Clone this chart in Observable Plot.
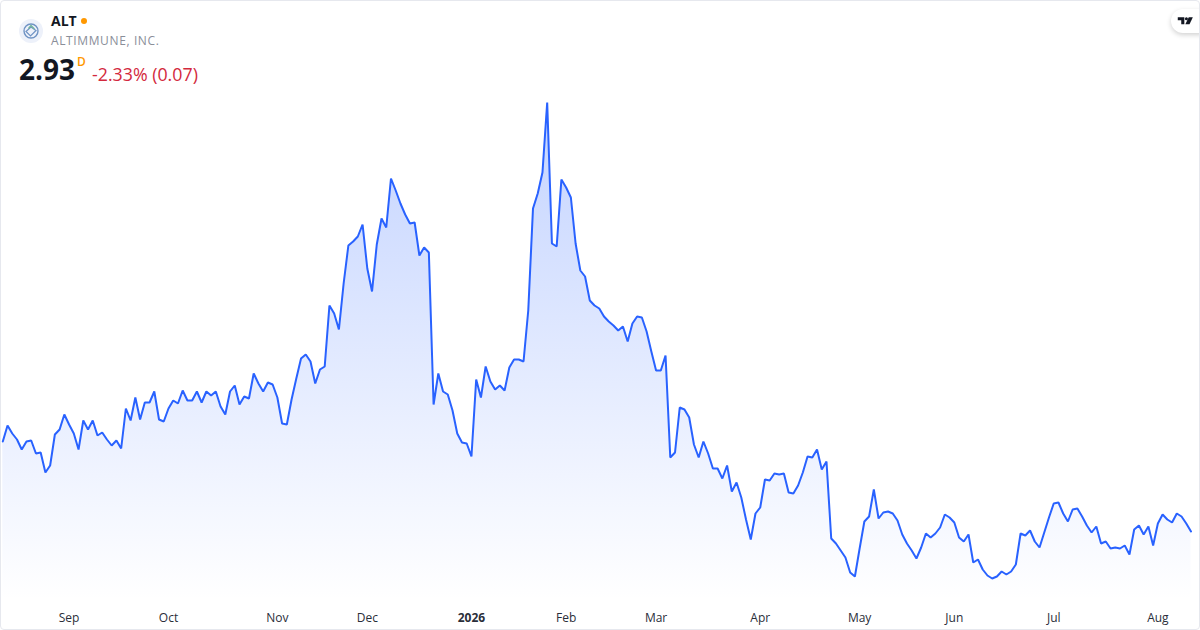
<!DOCTYPE html>
<html>
<head>
<meta charset="utf-8">
<script src="https://cdn.jsdelivr.net/npm/d3@7"></script>
<script src="https://cdn.jsdelivr.net/npm/@observablehq/plot@0.6"></script>
<style>
html,body{margin:0;padding:0;background:#fff}
#card{position:relative;width:1200px;height:630px;box-sizing:border-box;overflow:hidden;font-family:"Open Sans",sans-serif;background:#fff}
#frame{position:absolute;left:0;top:0;width:1200px;height:630px;box-sizing:border-box;border:1px solid #e6e8ee;border-radius:4px;pointer-events:none}
#chart{position:absolute;left:0;top:0}
#chart svg{display:block;background:transparent}
.t{position:absolute;white-space:nowrap;line-height:1}
#logo{position:absolute;left:19px;top:19px}
#tv{position:absolute;left:1171px;top:9px;width:40px;height:24px;border-radius:12px;background:#fff;box-shadow:0 2px 5px rgba(0,0,0,.18)}
#tv svg{position:absolute;left:5.5px;top:6.5px}
</style>
</head>
<body>
<div id="card">
  <div id="chart"></div>
  <svg id="logo" width="24" height="24" viewBox="0 0 24 24">
    <circle cx="12" cy="12" r="12" fill="#edf1fa"/>
    <circle cx="12" cy="12" r="7" fill="none" stroke="#6f93c4" stroke-width="1.4"/>
    <path d="M7 12.5 L12 8 L17 11.5 L11.5 17 Z" fill="none" stroke="#6f93c4" stroke-width="1.2"/>
    <path d="M9.5 9.5 L12 6.5 L15.5 10" fill="none" stroke="#6fb39a" stroke-width="1.3"/>
  </svg>
  <div class="t" style="left:51px;top:13.5px;font-size:14px;font-weight:700;color:#131722">ALT</div>
  <svg style="position:absolute;left:80px;top:17px" width="8" height="8"><circle cx="4" cy="4" r="3" fill="#ff9800"/></svg>
  <div class="t" style="left:51px;top:34.5px;font-size:12px;color:#8a8e99;letter-spacing:.62px">ALTIMMUNE, INC.</div>
  <div class="t" style="left:19px;top:55px;font-size:28px;font-weight:700;color:#131722">2.93</div>
  <div class="t" style="left:77px;top:56px;font-size:12px;font-weight:600;color:#ff9800">D</div>
  <div class="t" style="left:92px;top:66px;font-size:17.8px;color:#d3293d">-2.33% (0.07)</div>
  <div id="tv"><svg width="17" height="9.3" viewBox="0 0 22 12"><path d="M1 1.5 H9.5 V10.5 H5.5 V5.5 H1 Z" fill="#131722"/><circle cx="12.2" cy="3.5" r="2" fill="#131722"/><path d="M15.2 1.5 H20.5 L16.2 10.5 H10.8 Z" fill="#131722"/></svg></div>
  <div id="frame"></div>
</div>
<script>
const closes = [
3.83,3.99,3.91,3.85,3.75,3.83,3.84,3.71,3.72,3.52,3.59,3.90,3.95,4.10,4.00,3.91,3.75,4.04,3.95,4.04,
3.89,3.92,3.85,3.79,3.84,3.76,4.16,4.04,4.27,4.05,4.22,4.22,4.33,4.05,4.03,4.16,4.24,4.21,4.34,4.24,
4.24,4.33,4.22,4.33,4.29,4.33,4.18,4.10,4.33,4.39,4.20,4.28,4.26,4.51,4.41,4.33,4.42,4.40,4.27,4.01,
4.00,4.25,4.46,4.66,4.70,4.63,4.41,4.55,4.58,5.19,5.11,4.95,5.41,5.79,5.83,5.88,6.00,5.56,5.33,5.80,
6.06,5.97,6.46,6.34,6.21,6.10,6.01,6.02,5.69,5.77,5.72,4.20,4.51,4.33,4.30,4.14,3.91,3.82,3.81,3.68,
4.45,4.27,4.58,4.43,4.35,4.39,4.34,4.57,4.65,4.65,4.63,5.14,6.16,6.31,6.52,7.22,5.81,5.78,6.45,6.37,
6.27,5.81,5.54,5.48,5.24,5.19,5.16,5.08,5.03,4.99,4.94,4.98,4.83,5.01,5.08,5.07,4.93,4.73,4.54,4.54,
4.69,3.67,3.72,4.17,4.15,4.07,3.80,3.67,3.83,3.71,3.56,3.56,3.46,3.59,3.33,3.42,3.27,3.05,2.85,3.11,
3.17,3.45,3.44,3.51,3.50,3.51,3.32,3.31,3.39,3.52,3.68,3.67,3.75,3.55,3.63,2.86,2.81,2.74,2.67,2.52,
2.48,2.76,3.03,3.08,3.35,3.06,3.12,3.13,3.11,3.04,2.90,2.81,2.74,2.66,2.77,2.91,2.87,2.91,2.97,3.10,
3.07,3.02,2.87,2.83,2.90,2.62,2.65,2.55,2.49,2.46,2.48,2.53,2.50,2.53,2.60,2.91,2.89,2.94,2.83,2.77,
2.92,3.07,3.21,3.22,3.11,3.03,3.15,3.16,3.08,2.99,2.92,2.98,2.81,2.83,2.76,2.77,2.76,2.79,2.70,2.95,
2.99,2.90,2.98,2.79,3.01,3.10,3.05,3.02,3.11,3.08,3.01,2.93];
const monthTicks = [14,35,58,77,119,138,160,181,201,222,244];
const monthLabels = ["Sep","Oct","Nov","Dec","Feb","Mar","Apr","May","Jun","Jul","Aug"];
const yearTicks = [99];
const yearLabels = ["2026"];

const rows = closes.map((close, i) => ({i, close}));
const base = 2.24;

const axisOpts = {anchor:"bottom", tickSize:0, tickPadding:13, fontSize:12, label:null};
const plot = Plot.plot({
  width:1200, height:630, marginTop:0, marginLeft:0, marginRight:0, marginBottom:30,
  style:{fontFamily:'"Open Sans",sans-serif', color:"#2a2e39", overflow:"visible"},
  x:{domain:[0,251], range:[2.3,1190.5], label:null, axis:null},
  y:{domain:[base,8.24], range:[600,0], label:null, axis:null},
  marks:[
    () => {
      const defs = d3.create("svg:defs");
      const g = defs.append("linearGradient").attr("id","fade").attr("x1",0).attr("x2",0).attr("y1",0).attr("y2",1);
      g.append("stop").attr("offset","0%").attr("stop-color","#2962ff").attr("stop-opacity",0.28);
      g.append("stop").attr("offset","100%").attr("stop-color","#2962ff").attr("stop-opacity",0);
      return defs.node();
    },
    Plot.areaY(rows, {x:"i", y1:base, y2:"close", fill:"url(#fade)"}),
    Plot.lineY(rows, {x:"i", y:"close", stroke:"#2962ff", strokeWidth:2, strokeLinejoin:"miter", curve:"linear"}),
    Plot.axisX(monthTicks, {...axisOpts, tickFormat:d => monthLabels[monthTicks.indexOf(d)]}),
    Plot.axisX(yearTicks, {...axisOpts, fontWeight:"bold", tickFormat:d => yearLabels[yearTicks.indexOf(d)]})
  ]
});
document.getElementById("chart").append(plot);
</script>
</body>
</html>
